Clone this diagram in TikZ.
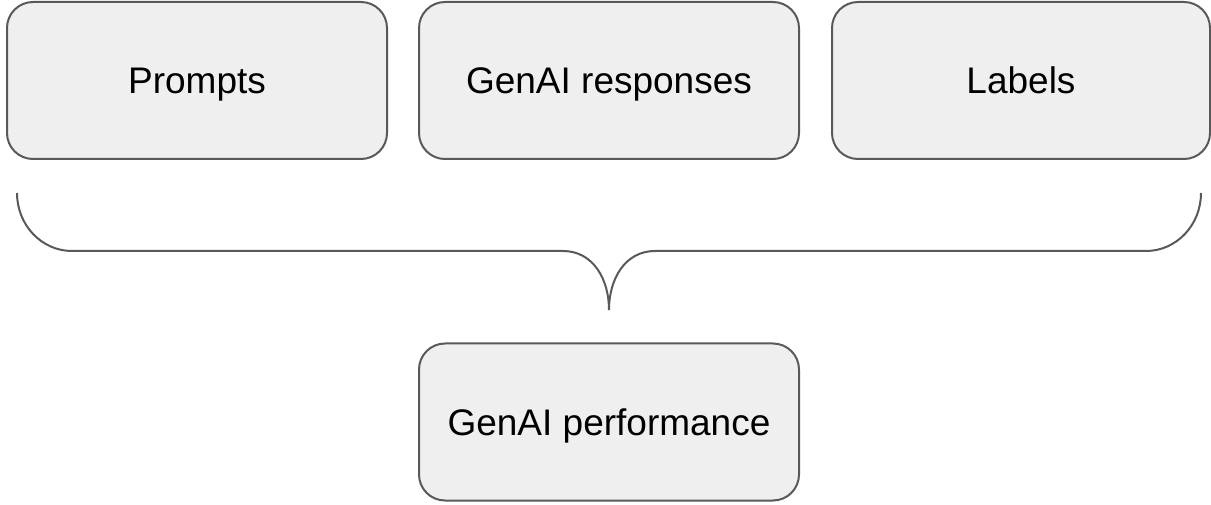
\documentclass[tikz,border=0pt]{standalone}
\usepackage{fontspec}
\setmainfont{Liberation Sans}
\definecolor{boxfill}{HTML}{EFEFEF}
\definecolor{boxline}{HTML}{595959}
\tikzset{
  card/.style={draw=boxline, fill=boxfill, line width=2pt, rounded corners=26pt,
    minimum width=380pt, minimum height=157pt, inner sep=0pt,
    text height=26.5pt, text depth=0pt, font=\fontsize{37pt}{44pt}\selectfont},
  bracepath/.style={draw=boxline, line width=2pt}
}
\begin{document}
\begin{tikzpicture}[x=1pt,y=1pt]
\useasboundingbox (0,0) rectangle (1211,504);
\node[card] (prompts) at (197,423.5) {Prompts};
\node[card] (responses) at (609,423.5) {GenAI responses};
\node[card, minimum width=378pt] (labels) at (1021,423.5) {Labels};
\node[card] (perf) at (609,82) {GenAI performance};
\coordinate (bl) at (17,311);
\coordinate (br) at (1201,311);
\coordinate (tip) at (609,194);
\draw[bracepath] (bl) arc[start angle=180, end angle=270, x radius=55, y radius=58]
  -- (563,253) .. controls (593,253) and (609,225) .. (tip)
  (tip) .. controls (609,225) and (625,253) .. (655,253)
  -- (1146,253) arc[start angle=270, end angle=360, x radius=55, y radius=58];
\end{tikzpicture}
\end{document}
